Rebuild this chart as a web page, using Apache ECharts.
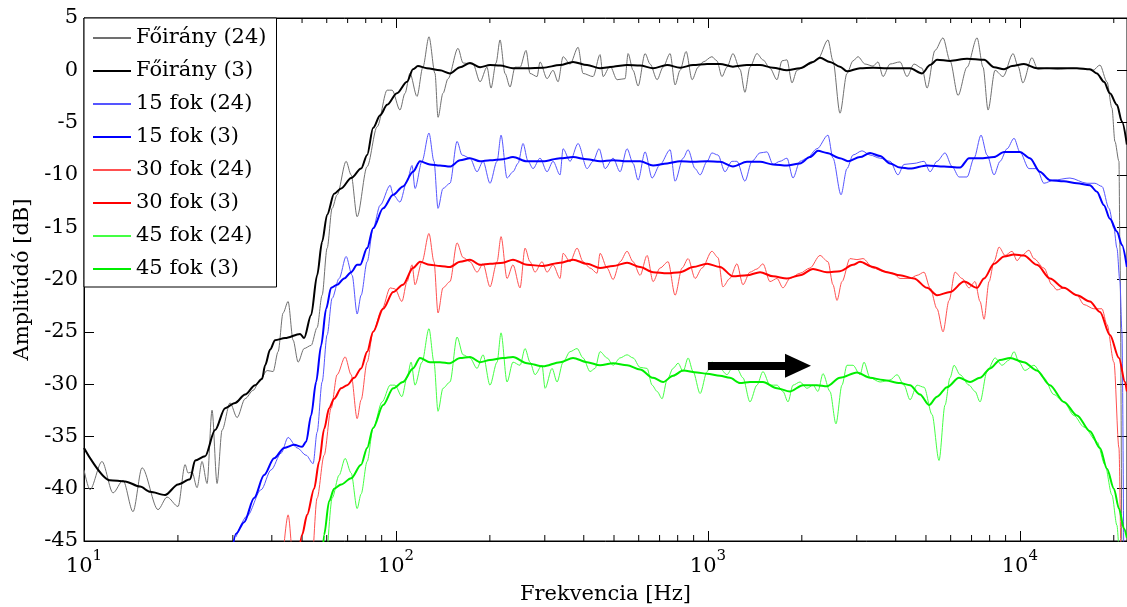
<!DOCTYPE html>
<html>
<head>
    <meta charset="utf-8">
    <title>Frekvenciamenet</title>
    <script src="https://cdn.jsdelivr.net/npm/echarts@6/dist/echarts.min.js"></script>
    <style>html, body { margin: 0; padding: 0; background: #fff; }</style>
</head>
<body>
<div id="main" style="width: 1127px;height:607px"></div>
<script type="text/javascript">
    // [frekvencia Hz, amplitudo dB]
    var foirany24 = [[10.0,-38.2],[10.45,-40.1],[11.42,-37.4],[12.39,-40.4],[13.34,-39.2],[14.36,-42.2],[15.35,-38.0],[17.27,-42.0],[18.46,-40.8],[20.02,-41.7],[21.09,-37.7],[21.56,-38.5],[22.2,-38.4],[23.03,-39.9],[23.9,-37.4],[24.8,-39.5],[25.73,-32.5],[26.7,-39.5],[27.71,-34.4],[29.39,-31.8],[30.96,-33.2],[32.84,-31.4],[34.84,-30.6],[36.69,-29.6],[38.64,-28.7],[40.39,-28.8],[41.9,-26.9],[43.47,-23.2],[45.11,-22.1],[46.81,-25.8],[48.57,-27.9],[50.77,-26.6],[53.46,-26.3],[55.88,-24.6],[57.98,-21.5],[60.17,-17.0],[62.43,-13.2],[64.78,-11.9],[69.23,-8.7],[71.83,-10.0],[75.09,-14.0],[80.84,-9.2],[87.04,-5.4],[93.7,-1.9],[97.22,-1.9],[103.0,-3.8],[106.9,-2.2],[110.9,-0.3],[116.8,-2.5],[122.0,0.3],[127.6,3.2],[133.4,-0.3],[136.4,-4.5],[141.5,-2.2],[146.9,-0.8],[158.1,2.1],[164.1,0.7],[176.6,0.6],[186.0,-1.1],[195.8,0.3],[201.7,-1.7],[209.3,0.7],[215.6,2.9],[223.7,-0.3],[232.1,-1.6],[240.8,0.3],[249.9,0.3],[261.2,1.9],[269.0,-0.3],[283.3,-0.6],[289.6,0.8],[305.0,-0.8],[318.8,0.0],[330.9,-1.1],[343.3,1.3],[361.5,0.6],[383.5,2.2],[397.9,-0.3],[428.4,-0.6],[451.1,1.5],[461.2,-0.6],[485.7,0.4],[511.5,-0.9],[542.6,-0.8],[554.7,1.6],[575.6,0.0],[597.3,-1.5],[628.9,1.6],[652.6,0.6],[687.2,-0.9],[718.3,0.3],[756.4,1.6],[784.9,-1.4],[814.4,0.0],[851.3,1.8],[889.9,-0.9],[930.2,0.3],[965.1,0.8],[1030,1.3],[1069,0.9],[1109,-0.6],[1151,0.3],[1203,1.6],[1267,0.1],[1314,-2.1],[1364,0.3],[1436,1.6],[1501,1.0],[1581,0.2],[1665,-0.9],[1727,0.9],[1792,1.0],[1860,-1.2],[1930,0.0],[2017,0.3],[2124,0.6],[2253,1.1],[2426,2.9],[2517,0.9],[2651,-4.1],[2791,-0.3],[2918,0.9],[3028,1.3],[3189,0.6],[3383,0.4],[3510,0.8],[3642,-0.6],[3835,0.6],[4129,0.8],[4347,-0.6],[4578,0.6],[4857,0.2],[5040,-1.7],[5346,1.9],[5671,3.1],[5973,0.9],[6336,-2.4],[6771,0.3],[7290,3.1],[7620,0.3],[7907,-3.8],[8326,0.0],[8833,-0.6],[9510,1.6],[9867,0.4],[10220,-1.2],[10930,1.2],[11420,0.1],[12200,0.2],[13140,0.1],[14790,0.2],[16410,0.1],[17150,0.0],[18060,0.5],[19020,-1.1],[19730,-3.6],[20170,-6.8],[20780,-8.7],[20930,-17],[21240,-50]];
    var foirany3 = [[10.0,-36.1],[12.11,-39.2],[13.54,-39.3],[15.13,-39.8],[16.29,-40.3],[18.19,-40.6],[20.02,-39.6],[21.88,-39.1],[22.7,-37.3],[24.44,-36.9],[26.31,-34.4],[28.33,-32.3],[30.5,-31.8],[32.84,-31.0],[35.36,-30.1],[37.23,-29.5],[38.07,-28.2],[39.5,-26.7],[40.98,-25.8],[44.12,-25.6],[49.3,-25.2],[50.77,-25.6],[53.46,-23.4],[55.88,-19.6],[57.98,-16.4],[60.17,-13.8],[63.36,-11.8],[66.72,-11.3],[71.83,-10.3],[77.33,-9.4],[80.84,-8.1],[84.5,-5.5],[88.99,-4.3],[93.7,-3.3],[100.7,-2.2],[108.5,-1.1],[113.4,0.1],[117.6,0.4],[125.7,0.2],[138.4,0.0],[149.0,-0.3],[160.5,0.3],[172.7,0.7],[186.0,0.3],[200.2,0.5],[215.6,0.45],[237.2,0.2],[263.1,0.2],[296.1,0.25],[335.8,0.5],[369.6,0.8],[409.8,0.5],[451.1,0.2],[496.6,0.35],[550.6,0.5],[606.2,0.45],[667.2,0.2],[739.8,0.5],[814.4,0.25],[896.4,0.5],[994,0.6],[1093,0.6],[1203,0.35],[1334,0.5],[1469,0.5],[1617,0.25],[1792,0.0],[1973,0.2],[2172,0.8],[2287,1.2],[2462,0.8],[2651,0.35],[2791,-0.1],[3073,0.2],[3383,0.25],[3751,0.2],[4129,0.2],[4445,0.2],[4857,-0.3],[5153,0.5],[5426,1.0],[5973,0.9],[6771,1.1],[7677,1.0],[8265,0.3],[8899,0.1],[9440,0.4],[10300,0.6],[11340,0.2],[13140,0.2],[15240,0.2],[16770,0.1],[17660,-0.3],[18600,-1.1],[19440,-2.2],[20470,-3.3],[21240,-4.9],[22030,-7.1]];
    var fok15_24 = [[30.73,-44.6],[33.33,-42.6],[36.96,-40.1],[39.79,-38.2],[42.84,-36.6],[45.11,-35.1],[48.22,-36.1],[51.53,-36.8],[54.26,-37.6],[55.88,-34.6],[57.98,-29.8],[60.17,-25.3],[62.43,-21.8],[65.74,-19.9],[69.23,-17.8],[72.36,-19.6],[75.09,-23.3],[77.33,-21.5],[80.84,-18.3],[84.5,-15.1],[88.99,-12.9],[95.8,-11.0],[97.95,-11.9],[103.0,-12.6],[108.5,-10.6],[112.6,-9.1],[115.1,-11.3],[121.2,-8.7],[127.6,-6.0],[132.4,-8.7],[136.4,-13.2],[141.5,-11.3],[149.0,-10.8],[157.0,-6.8],[162.9,-8.1],[172.7,-8.4],[181.9,-9.7],[190.2,-8.7],[200.2,-10.8],[210.9,-8.7],[217.2,-6.2],[227.0,-10.3],[237.2,-9.7],[246.2,-8.9],[255.5,-7.0],[265.1,-8.7],[275.0,-9.4],[289.6,-8.4],[305.0,-9.7],[318.8,-8.7],[335.8,-10.0],[343.3,-7.5],[361.5,-8.7],[383.5,-7.0],[409.8,-9.4],[428.4,-8.7],[447.8,-7.5],[468.1,-9.4],[496.6,-8.4],[522.9,-9.7],[550.6,-7.5],[575.6,-8.9],[597.3,-10.5],[628.9,-7.8],[662.3,-10.3],[702.6,-9.0],[756.4,-7.6],[784.9,-10.6],[832.6,-8.4],[864.0,-7.6],[909.8,-9.4],[944.0,-10.0],[994,-8.7],[1030,-7.9],[1077,-8.1],[1134,-9.7],[1194,-8.7],[1239,-8.7],[1314,-10.6],[1384,-8.7],[1469,-7.9],[1546,-7.8],[1617,-9.0],[1702,-8.7],[1792,-8.4],[1874,-10.3],[1973,-8.7],[2078,-8.4],[2237,-7.5],[2426,-6.2],[2517,-8.4],[2671,-11.9],[2791,-9.4],[2918,-8.1],[3119,-7.7],[3309,-8.1],[3562,-8.4],[3835,-8.7],[4068,-10.0],[4252,-9.0],[4578,-8.9],[4930,-8.7],[5153,-9.7],[5426,-8.7],[5756,-7.9],[6062,-9.2],[6383,-10.2],[6771,-10.2],[7130,-8.4],[7508,-6.2],[7849,-8.1],[8265,-10.0],[8640,-8.7],[9098,-7.5],[9580,-6.5],[10000,-7.8],[10690,-9.4],[11340,-9.4],[11940,-10.8],[12850,-10.5],[14470,-10.3],[16410,-10.8],[17400,-10.8],[18330,-11.1],[19300,-13.2],[20020,-15.1],[20470,-17.0],[20930,-20.2],[21240,-25],[21560,-50]];
    var fok15_3 = [[29.5,-47],[30.73,-44.3],[32.6,-43.2],[35.1,-40.9],[37.79,-38.7],[40.68,-37.1],[43.8,-36.1],[47.16,-35.8],[50.03,-36.0],[51.53,-35.5],[53.46,-33.0],[55.47,-29.8],[57.56,-26.3],[59.73,-22.8],[61.97,-20.8],[64.78,-20.5],[68.21,-19.9],[71.83,-19.3],[75.09,-18.6],[76.77,-18.6],[80.84,-17.0],[84.5,-15.1],[90.98,-13.2],[97.95,-11.9],[105.3,-11.1],[113.4,-9.7],[119.4,-8.7],[128.5,-9.0],[138.4,-9.1],[149.0,-9.2],[160.5,-8.6],[172.7,-8.4],[186.0,-8.7],[200.2,-8.6],[220.4,-8.5],[237.2,-8.3],[263.1,-8.7],[296.1,-8.7],[335.8,-8.4],[369.6,-8.3],[409.8,-8.5],[451.1,-8.7],[496.6,-8.6],[550.6,-8.7],[606.2,-8.7],[667.2,-9.1],[739.8,-8.9],[814.4,-8.7],[896.4,-8.75],[994,-8.7],[1093,-8.75],[1203,-9.2],[1334,-8.75],[1469,-8.75],[1617,-9.0],[1792,-9.1],[1973,-8.9],[2124,-8.3],[2253,-7.7],[2408,-7.9],[2651,-8.4],[2812,-8.7],[3073,-8.3],[3309,-7.9],[3562,-8.2],[3835,-8.9],[4129,-9.3],[4445,-9.4],[5040,-9.1],[5714,-9.2],[6430,-9.3],[6872,-8.4],[7453,-8.4],[8265,-8.3],[8899,-7.8],[10000,-7.8],[10770,-8.4],[11590,-9.7],[12480,-10.5],[13840,-10.6],[15240,-10.8],[16770,-11.0],[17660,-11.6],[18600,-12.9],[19440,-14.2],[20470,-15.4],[21240,-16.7],[22030,-18.8]];
    var fok30_24 = [[43.0,-48],[45.11,-42.5],[47.2,-48],[53.46,-48],[55.88,-40.9],[58.85,-36.8],[61.97,-32.3],[64.78,-29.1],[68.72,-27.4],[71.83,-29.1],[75.09,-33.3],[77.33,-31.5],[80.84,-27.9],[84.5,-25.0],[90.31,-22.8],[95.8,-20.8],[99.26,-20.9],[104.5,-22.1],[108.5,-20.2],[112.6,-18.6],[115.1,-20.5],[121.2,-18.3],[127.6,-15.6],[132.4,-18.3],[136.4,-23.2],[141.5,-20.8],[149.0,-20.2],[157.0,-16.5],[164.1,-17.9],[172.7,-18.3],[181.9,-19.3],[190.2,-18.5],[200.2,-20.7],[210.9,-18.3],[217.2,-15.9],[227.0,-19.9],[237.2,-18.6],[249.9,-20.8],[259.3,-17.0],[269.0,-18.3],[279.1,-19.3],[293.9,-18.3],[305.0,-19.3],[318.8,-18.6],[335.8,-19.9],[343.3,-17.5],[361.5,-18.3],[380.7,-17.0],[397.9,-18.3],[419.0,-18.9],[441.2,-19.4],[451.1,-17.5],[475.1,-18.9],[496.6,-20.0],[522.9,-18.3],[550.6,-17.3],[575.6,-18.3],[606.2,-19.6],[638.3,-17.7],[667.2,-20.2],[702.6,-18.9],[745.3,-18.3],[784.9,-21.5],[826.5,-18.9],[864.0,-18.0],[909.8,-19.9],[958.0,-18.9],[1030,-17.3],[1077,-17.9],[1117,-20.7],[1176,-19.9],[1239,-18.5],[1295,-20.5],[1364,-19.3],[1436,-19.0],[1501,-18.5],[1581,-20.2],[1665,-19.9],[1740,-20.8],[1833,-19.9],[1973,-19.4],[2124,-18.9],[2287,-17.7],[2426,-18.3],[2517,-20.5],[2593,-22.0],[2690,-20.2],[2854,-18.0],[3005,-18.1],[3142,-18.0],[3383,-18.9],[3642,-19.2],[3921,-19.4],[4129,-19.9],[4445,-19.9],[4681,-19.6],[4930,-19.3],[5153,-20.8],[5426,-22.8],[5671,-25.0],[5929,-22.0],[6197,-19.3],[6526,-19.9],[6872,-20.8],[7183,-20.2],[7453,-22.1],[7677,-23.8],[7966,-20.2],[8265,-18.3],[8576,-16.9],[8964,-17.7],[9440,-17.3],[9795,-18.2],[10150,-17.7],[10690,-17.2],[11090,-18.0],[11940,-18.9],[12670,-20.5],[13140,-21.0],[13840,-20.8],[15240,-21.5],[16050,-22.4],[17270,-22.8],[18330,-22.8],[19020,-24.3],[20020,-27.9],[20780,-36.1],[21090,-48]];
    var fok30_3 = [[48.5,-47],[50.03,-44.4],[51.91,-42.5],[54.66,-40.0],[56.72,-37.4],[58.85,-34.3],[61.06,-32.3],[63.36,-31.4],[66.72,-30.4],[69.74,-30.1],[73.44,-29.4],[77.33,-28.5],[80.84,-26.9],[84.5,-25.0],[90.98,-22.8],[97.95,-21.2],[105.3,-20.5],[113.4,-18.9],[119.4,-18.3],[128.5,-18.6],[138.4,-18.7],[149.0,-18.8],[160.5,-18.3],[172.7,-18.1],[186.0,-18.6],[200.2,-18.5],[220.4,-18.4],[237.2,-18.1],[263.1,-18.6],[296.1,-18.7],[335.8,-18.4],[369.6,-18.1],[409.8,-18.5],[451.1,-18.9],[496.6,-18.7],[550.6,-18.4],[606.2,-18.8],[667.2,-19.3],[739.8,-19.4],[814.4,-19.3],[896.4,-18.8],[994,-18.5],[1093,-18.8],[1203,-19.7],[1334,-19.6],[1469,-19.3],[1617,-19.7],[1792,-19.9],[1973,-19.6],[2172,-19.0],[2408,-19.3],[2651,-19.2],[2918,-18.6],[3073,-18.3],[3383,-18.8],[3751,-19.3],[4129,-19.6],[4578,-19.9],[5040,-20.8],[5426,-21.5],[5973,-21.2],[6623,-20.2],[7290,-20.8],[7677,-19.9],[8265,-18.5],[8899,-17.8],[9580,-17.6],[10300,-17.7],[11340,-18.6],[12480,-19.9],[13840,-20.8],[15240,-21.5],[16770,-22.1],[18060,-23.1],[19440,-25.3],[20780,-27.5],[21720,-29.8],[22030,-30.7]];
    var fok45_24 = [[59.73,-48],[62.43,-40.9],[65.74,-38.7],[68.72,-37.1],[71.83,-38.5],[75.09,-41.9],[77.33,-40.5],[80.84,-37.4],[84.5,-34.2],[90.31,-31.7],[95.8,-30.1],[99.26,-30.1],[104.5,-31.2],[108.5,-29.4],[111.8,-27.9],[115.1,-30.1],[121.2,-27.9],[127.6,-24.7],[132.4,-27.9],[136.4,-32.6],[141.5,-30.4],[149.0,-29.8],[157.0,-25.5],[164.1,-27.2],[172.7,-27.5],[181.9,-28.5],[190.2,-27.2],[200.2,-30.1],[210.9,-27.9],[217.2,-25.1],[227.0,-29.8],[237.2,-27.9],[249.9,-28.2],[259.3,-26.6],[269.0,-27.9],[279.1,-29.1],[293.9,-28.2],[300.6,-30.4],[316.5,-28.5],[328.4,-29.8],[343.3,-27.9],[361.5,-26.9],[380.7,-26.6],[397.9,-27.5],[419.0,-28.8],[434.7,-28.5],[451.1,-26.9],[475.1,-27.5],[496.6,-28.2],[522.9,-27.5],[550.6,-27.2],[575.6,-27.5],[606.2,-28.4],[638.3,-28.5],[662.3,-30.1],[687.2,-30.7],[713.0,-31.4],[739.8,-29.6],[773.3,-28.5],[802.5,-28.0],[832.6,-28.8],[864.0,-27.5],[896.4,-28.8],[944.0,-30.9],[994,-28.8],[1030,-27.9],[1093,-28.5],[1151,-29.1],[1194,-28.5],[1239,-28.5],[1295,-29.4],[1364,-31.7],[1436,-30.1],[1501,-28.8],[1581,-30.1],[1665,-30.1],[1740,-30.7],[1806,-31.7],[1874,-30.1],[1973,-29.8],[2078,-30.4],[2172,-30.1],[2253,-30.7],[2338,-29.0],[2462,-30.7],[2573,-33.8],[2690,-30.1],[2791,-28.2],[2918,-28.2],[3073,-29.1],[3165,-27.9],[3309,-29.4],[3562,-29.8],[3835,-29.6],[4039,-29.1],[4252,-30.1],[4445,-31.5],[4681,-30.1],[4930,-30.3],[5229,-32.9],[5506,-37.3],[5756,-32.0],[5973,-29.4],[6152,-28.2],[6430,-29.1],[6872,-30.1],[7183,-30.7],[7453,-31.7],[7849,-28.8],[8326,-27.5],[8768,-28.2],[9233,-27.7],[9580,-26.9],[9940,-27.9],[10380,-28.7],[11090,-28.2],[11940,-29.4],[12850,-31.0],[13840,-31.7],[14900,-33.0],[16050,-34.1],[17660,-35.5],[18740,-37.7],[19730,-40.6],[20470,-43.5],[20930,-48]];
    var fok45_3 = [[57.98,-47],[58.85,-44.4],[61.06,-41.2],[63.36,-40.0],[66.72,-39.6],[71.83,-39.0],[77.33,-37.7],[80.84,-36.1],[84.5,-34.2],[90.98,-32.0],[97.95,-30.4],[105.3,-29.8],[113.4,-28.5],[119.4,-27.5],[128.5,-27.9],[138.4,-27.9],[149.0,-28.0],[160.5,-27.5],[172.7,-27.4],[186.0,-27.9],[200.2,-27.7],[220.4,-27.5],[237.2,-27.4],[263.1,-28.0],[296.1,-28.3],[335.8,-27.9],[369.6,-27.5],[409.8,-27.9],[451.1,-28.2],[496.6,-28.0],[550.6,-28.2],[606.2,-28.6],[667.2,-29.4],[718.3,-29.8],[773.3,-29.2],[832.6,-28.7],[923.3,-28.9],[994,-29.0],[1093,-29.2],[1176,-29.4],[1267,-29.9],[1364,-29.8],[1501,-29.8],[1665,-30.4],[1833,-30.7],[2017,-30.1],[2237,-30.1],[2408,-30.2],[2651,-29.4],[3005,-28.9],[3309,-29.4],[3642,-29.6],[4129,-29.9],[4445,-30.1],[4786,-31.0],[5115,-32.0],[5426,-31.2],[5841,-30.3],[6383,-29.4],[6922,-29.8],[7453,-29.4],[8025,-28.5],[8640,-27.7],[9302,-27.5],[10300,-27.9],[11340,-28.7],[12480,-30.1],[13840,-31.7],[15240,-33.0],[16770,-34.5],[18060,-36.1],[19020,-38.1],[20020,-40.0],[20780,-41.9],[21560,-43.8],[22030,-44.7]];

    // nyil (1 kHz -> ~2 kHz)
    var arrowFrom = [1000, -28.25];
    var arrowTo = [1944, -28.25];

    // tengelyek
    var xMin = 10, xMax = 22050;
    var yMin = -45, yMax = 5, yStep = 5;
    var minorTicks = [20,30,40,50,60,70,80,90,200,300,400,500,600,700,800,900,2000,3000,4000,5000,6000,7000,8000,9000,20000];

    var serif = 'DejaVu Serif';
    var myChart = echarts.init(document.getElementById('main'));

    function lineSeries(name, data, color, width) {
        return {
            name: name,
            type: 'line',
            data: data,
            symbol: 'none',
            showSymbol: false,
            smooth: 0.3,
            smoothMonotone: 'x',
            animation: false,
            lineStyle: { color: color, width: width },
            itemStyle: { color: color },
            emphasis: { disabled: true }
        };
    }

    function powLabel(v) {
        var e = Math.round(Math.log(v) / Math.LN10);
        if (Math.abs(v - Math.pow(10, e)) > 1e-6 * v) return '';
        return '{b|10}{e|' + e + '}';
    }

    var series = [
        lineSeries('Főirány (24)', foirany24, '#707070', 1),
        lineSeries('Főirány (3)', foirany3, '#000000', 2),
        lineSeries('15 fok (24)', fok15_24, '#5555ff', 1),
        lineSeries('15 fok (3)', fok15_3, '#0000ff', 2),
        lineSeries('30 fok (24)', fok30_24, '#ff5050', 1),
        lineSeries('30 fok (3)', fok30_3, '#ff0000', 2),
        lineSeries('45 fok (24)', fok45_24, '#44ff44', 1),
        lineSeries('45 fok (3)', fok45_3, '#00ee00', 2)
    ];
    series[7].markLine = {
        silent: true,
        animation: false,
        symbol: ['none', 'triangle'],
        symbolSize: [24, 26],
        label: { show: false },
        lineStyle: { color: '#000', width: 8, type: 'solid' },
        itemStyle: { color: '#000' },
        emphasis: { disabled: true },
        data: [[{ coord: arrowFrom }, { coord: arrowTo }]]
    };
    // kis osztasok (log)
    series.push({
        type: 'custom',
        silent: true,
        animation: false,
        clip: false,
        data: minorTicks.map(function (f) { return [f, yMin]; }),
        encode: { x: 0, y: 1 },
        renderItem: function (params, api) {
            var f = api.value(0);
            var b = api.coord([f, yMin]);
            var t = api.coord([f, yMax]);
            return {
                type: 'group',
                children: [
                    { type: 'line', shape: { x1: b[0], y1: b[1], x2: b[0], y2: b[1] - 6 }, style: { stroke: '#000', lineWidth: 1 } },
                    { type: 'line', shape: { x1: t[0], y1: t[1], x2: t[0], y2: t[1] + 5 }, style: { stroke: '#000', lineWidth: 1 } }
                ]
            };
        }
    });

    var option = {
        backgroundColor: '#fff',
        animation: false,
        textStyle: { fontFamily: serif },
        grid: {
            left: 84, top: 18, right: 0, bottom: 66,
            containLabel: false,
            outerBoundsMode: 'none',
            show: true, borderColor: '#000', borderWidth: 1, backgroundColor: '#fff'
        },
        legend: {
            data: ['Főirány (24)', 'Főirány (3)', '15 fok (24)', '15 fok (3)', '30 fok (24)', '30 fok (3)', '45 fok (24)', '45 fok (3)'],
            orient: 'vertical',
            left: 84,
            top: 18,
            padding: [7, 10, 5, 8],
            itemGap: 7,
            itemWidth: 38,
            itemHeight: 14,
            selectedMode: false,
            backgroundColor: '#fff',
            borderColor: '#000',
            borderWidth: 1,
            borderRadius: 0,
            itemStyle: { opacity: 0 },
            textStyle: { fontFamily: serif, fontSize: 21, lineHeight: 26, color: '#000' }
        },
        xAxis: [{
            type: 'log',
            logBase: 10,
            min: xMin,
            max: xMax,
            name: 'Frekvencia [Hz]',
            nameLocation: 'middle',
            nameGap: 43,
            nameTextStyle: { fontFamily: serif, fontSize: 21, color: '#000' },
            axisLine: { show: true, onZero: false, lineStyle: { color: '#000', width: 1 } },
            axisTick: { show: true, inside: true, length: 10, lineStyle: { color: '#000' } },
            splitLine: { show: false },
            axisLabel: {
                margin: 8,
                color: '#000',
                formatter: powLabel,
                rich: {
                    b: { fontFamily: serif, fontSize: 21, lineHeight: 36, color: '#000' },
                    e: { fontFamily: serif, fontSize: 15, lineHeight: 15, verticalAlign: 'top', color: '#000' }
                }
            }
        }, {
            type: 'log',
            logBase: 10,
            min: xMin,
            max: xMax,
            position: 'top',
            axisLine: { show: true, onZero: false, lineStyle: { color: '#000', width: 1 } },
            axisTick: { show: true, inside: true, length: 10, lineStyle: { color: '#000' } },
            axisLabel: { show: false },
            splitLine: { show: false }
        }],
        yAxis: [{
            type: 'value',
            min: yMin,
            max: yMax,
            interval: yStep,
            name: 'Amplitúdó [dB]',
            nameLocation: 'middle',
            nameGap: 50,
            nameTextStyle: { fontFamily: serif, fontSize: 21, color: '#000' },
            axisLine: { show: true, onZero: false, lineStyle: { color: '#000', width: 1 } },
            axisTick: { show: true, inside: true, length: 10, lineStyle: { color: '#000' } },
            splitLine: { show: false },
            axisLabel: { margin: 6, color: '#000', fontFamily: serif, fontSize: 21 }
        }, {
            type: 'value',
            min: yMin,
            max: yMax,
            interval: yStep,
            position: 'right',
            axisLine: { show: true, onZero: false, lineStyle: { color: '#000', width: 1 } },
            axisTick: { show: true, inside: true, length: 10, lineStyle: { color: '#000' } },
            axisLabel: { show: false },
            splitLine: { show: false }
        }],
        series: series
    };

    myChart.setOption(option);
</script>
</body>
</html>
